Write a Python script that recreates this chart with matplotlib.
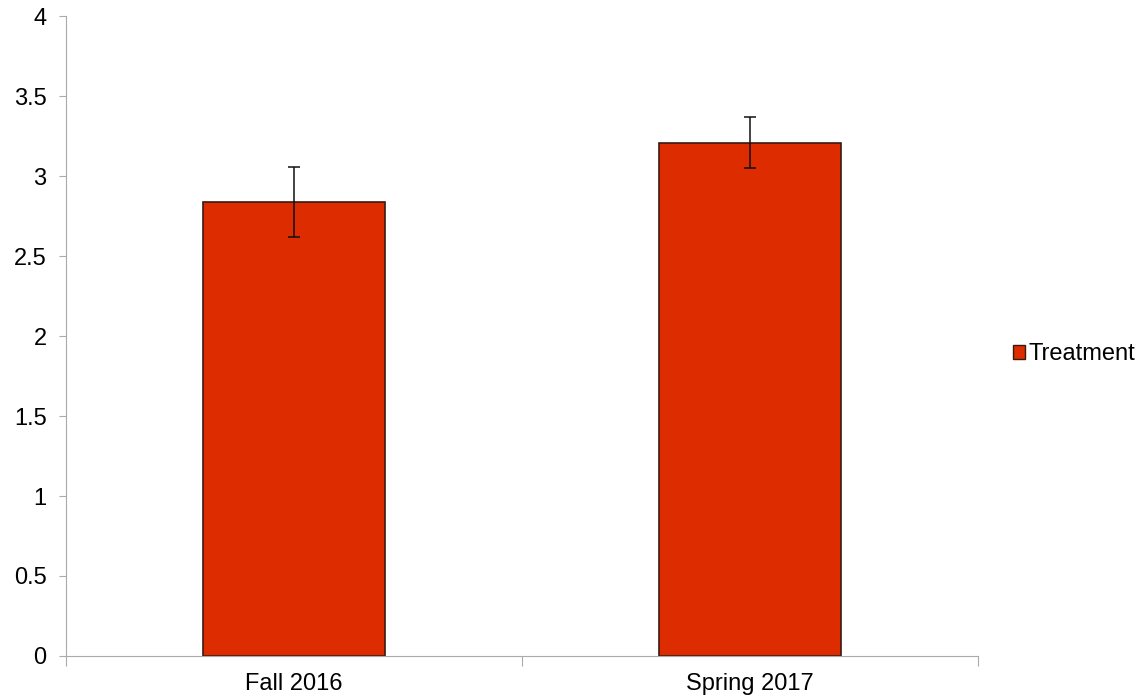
import matplotlib.pyplot as plt
from matplotlib.patches import Patch

plt.rcParams['font.family'] = ['Liberation Sans', 'DejaVu Sans']

# datos
categorias = ["Fall 2016", "Spring 2017"]
valores = [2.84, 3.21]
errores = [0.22, 0.16]

ROJO = "#dd2c00"

fig = plt.figure(figsize=(11.43, 7.0), dpi=100)
ax = fig.add_axes([0.0577, 0.0629, 0.7979, 0.914])

x = list(range(len(categorias)))
ax.bar(x, valores, width=0.4, color=ROJO, edgecolor="#3a1a10", linewidth=1.2,
       yerr=errores, error_kw=dict(ecolor="#111111", elinewidth=1.1, capsize=4.5, capthick=1.1),
       zorder=2)

ax.set_xlim(-0.5, len(categorias) - 0.5)
ax.set_ylim(0, 4)
ax.set_yticks([0, 0.5, 1, 1.5, 2, 2.5, 3, 3.5, 4])
ax.set_yticklabels(["0", "0.5", "1", "1.5", "2", "2.5", "3", "3.5", "4"], fontsize=17)

# ticks en los limites de categoria, etiquetas centradas
ax.set_xticks([-0.5, 0.5, 1.5])
ax.set_xticklabels([])
ax.set_xticks(x, minor=True)
ax.set_xticklabels(categorias, minor=True, fontsize=17)
ax.tick_params(axis="x", which="minor", length=0, pad=12)
ax.tick_params(axis="x", which="major", length=7, color="#aaaaaa", direction="out")
ax.tick_params(axis="y", length=5, color="#aaaaaa", direction="out", pad=9)

for lado in ["top", "right"]:
    ax.spines[lado].set_visible(False)
ax.spines["left"].set_color("#aaaaaa")
ax.spines["bottom"].set_color("#aaaaaa")

fig.legend(handles=[Patch(facecolor=ROJO, edgecolor="#3a1a10", label="Treatment")],
           loc="center left", bbox_to_anchor=(0.886, 0.494), frameon=False,
           fontsize=17, handlelength=0.5, handleheight=0.5, handletextpad=0.15,
           borderpad=0, borderaxespad=0)

plt.savefig("out.png", dpi=100)
